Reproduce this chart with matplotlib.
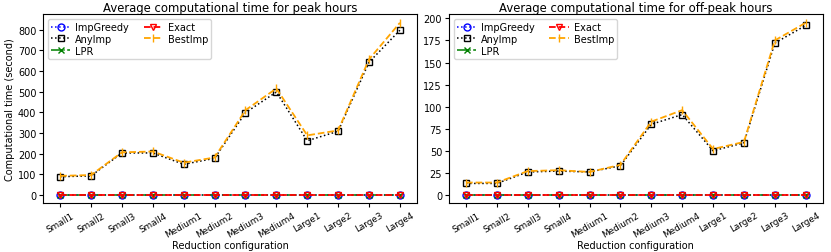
import matplotlib
matplotlib.use('Agg')
import matplotlib.pyplot as plt
import numpy as np

configs = ['Small1', 'Small2', 'Small3', 'Small4', 'Medium1', 'Medium2',
           'Medium3', 'Medium4', 'Large1', 'Large2', 'Large3', 'Large4']

# peak hours (seconds)
peak_impgreedy = [0.5] * 12
peak_anyimp = [88, 92, 203, 203, 148, 177, 398, 498, 262, 308, 642, 797]
peak_lpr = [0.3] * 12
peak_exact = [0.6] * 12
peak_bestimp = [92, 96, 206, 210, 156, 181, 410, 515, 288, 312, 656, 833]

# off-peak hours (seconds)
off_impgreedy = [0.2] * 12
off_anyimp = [13, 13, 26, 27, 26, 33, 80, 91, 50, 59, 172, 192]
off_lpr = [0.1] * 12
off_exact = [0.2] * 12
off_bestimp = [14, 14, 27, 28, 26, 34, 83, 96, 52, 60, 175, 195]

plt.rcParams['font.size'] = 7
plt.rcParams['axes.linewidth'] = 0.8

fig, axes = plt.subplots(1, 2, figsize=(8.31, 2.53), dpi=100)
x = np.arange(len(configs))


def draw(ax, imp, anyi, lpr, exact, best, title):
    ax.plot(x, imp, ':', color='blue', lw=1.1, marker='o', mfc='none', ms=5, label='ImpGreedy')
    ax.plot(x, anyi, ':', color='black', lw=1.1, marker='s', mfc='none', ms=5, label='AnyImp')
    ax.plot(x, lpr, '-.', color='green', lw=1.1, marker='x', ms=4, label='LPR')
    ax.plot(x, exact, '--', color='red', lw=1.3, marker='v', mfc='none', ms=5, label='Exact')
    ax.plot(x, best, '--', color='orange', lw=1.3, marker='|', ms=6, label='BestImp')
    ax.set_title(title, fontsize=8.4, pad=2)
    ax.set_xticks(x)
    ax.set_xticklabels(configs, rotation=30, fontsize=6.4)
    ax.set_xlabel('Reduction configuration', fontsize=7, labelpad=1)
    ax.tick_params(length=3, pad=2)
    ax.legend(ncol=2, loc='upper left', fontsize=7, handlelength=2.0,
              borderpad=0.3, labelspacing=0.2, columnspacing=1.5, handletextpad=0.5)


draw(axes[0], peak_impgreedy, peak_anyimp, peak_lpr, peak_exact, peak_bestimp,
     'Average computational time for peak hours')
axes[0].set_ylabel('Computational time (second)', fontsize=7, labelpad=2)
axes[0].set_yticks(range(0, 801, 100))

draw(axes[1], off_impgreedy, off_anyimp, off_lpr, off_exact, off_bestimp,
     'Average computational time for off-peak hours')
axes[1].set_yticks(range(0, 201, 25))

plt.subplots_adjust(left=0.052, right=0.990, top=0.94, bottom=0.192, wspace=0.086)
plt.savefig('out.png')
